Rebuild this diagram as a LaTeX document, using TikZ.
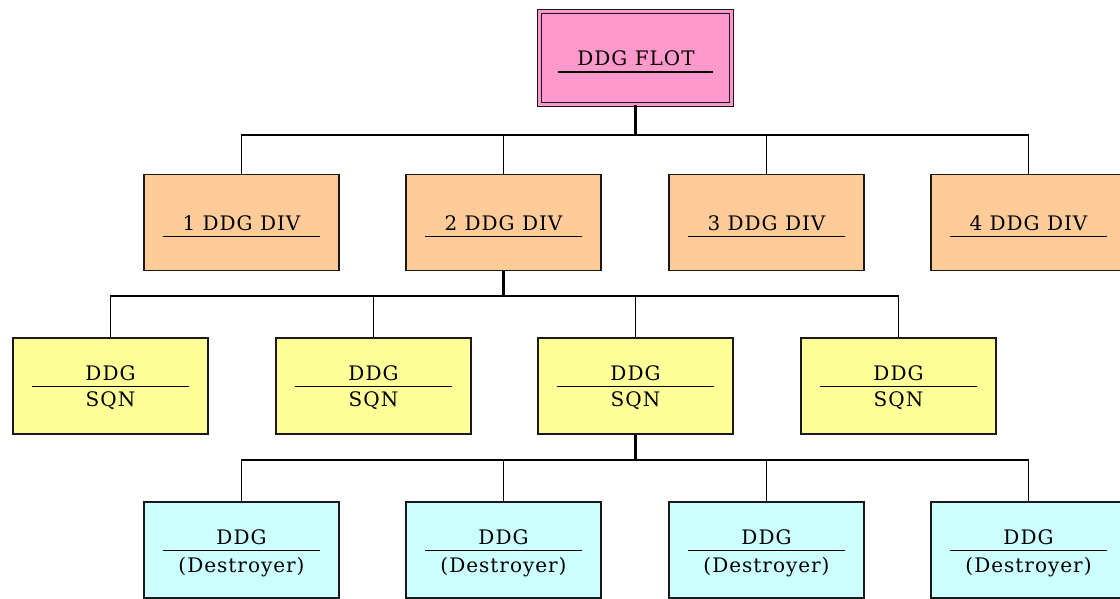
\documentclass[tikz,border=0pt]{standalone}
\usepackage{fontspec}
\setmainfont{DejaVu Serif}[LetterSpace=5]
\definecolor{flotpink}{HTML}{FF99CC}
\definecolor{divorange}{HTML}{FFCC99}
\definecolor{sqnyellow}{HTML}{FFFF99}
\definecolor{ddgcyan}{HTML}{CCFFFF}
\begin{document}
\begin{tikzpicture}[x=1pt,y=-1pt,
  box/.style={draw=black!90, line width=1.8pt, minimum width=195pt, minimum height=96pt, inner sep=0pt},
  lbl/.style={font=\fontsize{20}{24}\selectfont, inner sep=0pt, anchor=base},
  uline/.style={line width=1.6pt},
  conn/.style={line width=1.1pt},
  stub/.style={line width=2.2pt}]
\useasboundingbox (0,0) rectangle (1120,598);
\clip (0,0) rectangle (1120,598);
% top
\node[box, fill=flotpink, double=flotpink, double distance=2.2pt, line width=1.4pt,
      minimum width=192pt, minimum height=93pt] (top) at (635.5,58) {};
\node[lbl] (toplbl) at (636,65) {DDG FLOT};
\draw[uline] ([xshift=19pt]top.west |- 0,72) -- ([xshift=-19pt]top.east |- 0,72);
% level 2
\foreach \i/\x/\t in {1/241.5/1 DDG DIV, 2/503.5/2 DDG DIV, 3/766.5/3 DDG DIV, 4/1028.5/4 DDG DIV}{
  \node[box, fill=divorange] (d\i) at (\x,222.5) {};
  \node[lbl] (d\i lbl) at (\x,230) {\t};
  \draw[uline] ([xshift=20pt]d\i.west |- 0,236.5) -- ([xshift=-20pt]d\i.east |- 0,236.5);
}
% level 3
\foreach \i/\x in {1/110.5, 2/373.5, 3/635.5, 4/898.5}{
  \node[box, fill=sqnyellow] (s\i) at (\x,386) {};
  \node[lbl] (s\i a) at (\x,380) {DDG};
  \node[lbl] (s\i b) at (\x,406) {SQN};
  \draw[uline] ([xshift=20pt]s\i.west |- 0,386.5) -- ([xshift=-20pt]s\i.east |- 0,386.5);
}
% level 4
\foreach \i/\x in {1/241.5, 2/503.5, 3/766.5, 4/1028.5}{
  \node[box, fill=ddgcyan] (k\i) at (\x,550) {};
  \node[lbl] (k\i a) at (\x,544) {DDG};
  \node[lbl] (k\i b) at (\x,572) {(Destroyer)};
  \draw[uline] ([xshift=20pt]k\i.west |- 0,550.5) -- ([xshift=-20pt]k\i.east |- 0,550.5);
}
% connectors
\coordinate (j1) at (635.5,135);
\coordinate (j2) at (503.5,296);
\coordinate (j3) at (635.5,460);
\draw[stub] (top.south) -- (j1);
\foreach \i in {1,...,4} \draw[conn] (j1) -| (d\i.north);
\draw[stub] (d2.south) -- (j2);
\foreach \i in {1,...,4} \draw[conn] (j2) -| (s\i.north);
\draw[stub] (s3.south) -- (j3);
\foreach \i in {1,...,4} \draw[conn] (j3) -| (k\i.north);
\end{tikzpicture}
\end{document}
